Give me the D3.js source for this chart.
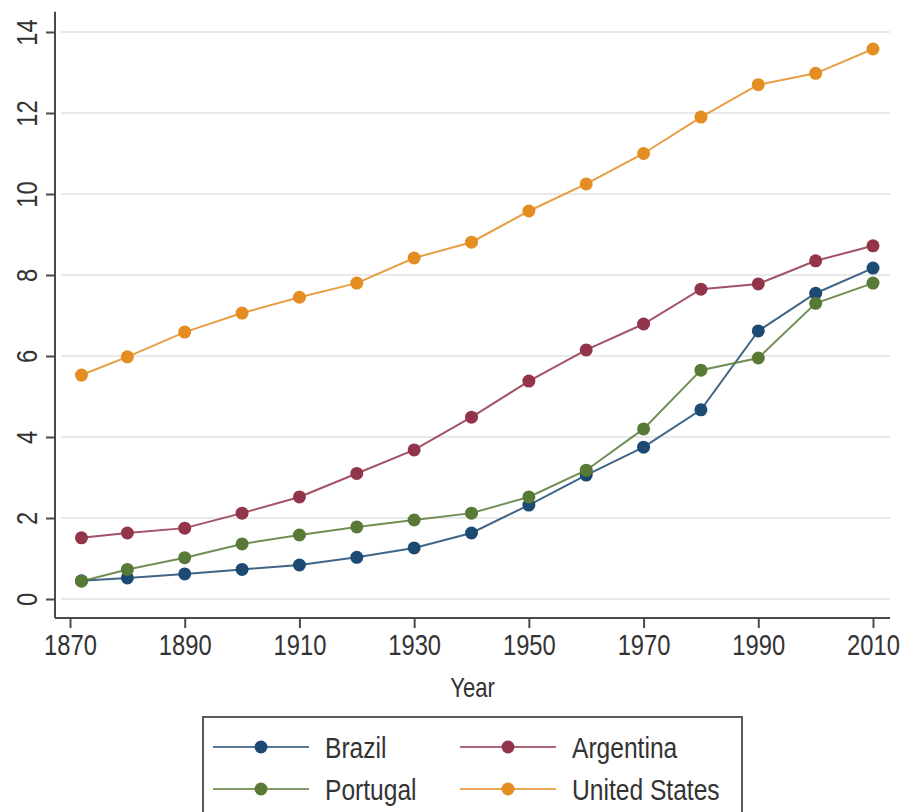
<!DOCTYPE html>
<html>
<head>
<meta charset="utf-8">
<script src="https://cdn.jsdelivr.net/npm/d3@7"></script>
<style>
  html, body { margin: 0; padding: 0; background: #fff; }
  #chart { width: 904px; height: 812px; }
  text { font-family: "Liberation Sans", Arial, sans-serif; fill: #333; }
</style>
</head>
<body>
<div id="chart"></div>
<script>
const years = [1872, 1880, 1890, 1900, 1910, 1920, 1930, 1940, 1950, 1960, 1970, 1980, 1990, 2000, 2010];
const brazil = [0.45, 0.52, 0.62, 0.73, 0.84, 1.03, 1.26, 1.63, 2.32, 3.06, 3.75, 4.67, 6.62, 7.55, 8.17];
const argentina = [1.51, 1.63, 1.75, 2.12, 2.52, 3.10, 3.68, 4.49, 5.38, 6.15, 6.79, 7.65, 7.78, 8.35, 8.72];
const portugal = [0.44, 0.73, 1.02, 1.36, 1.58, 1.78, 1.95, 2.12, 2.52, 3.18, 4.20, 5.65, 5.95, 7.30, 7.80];
const unitedStates = [5.53, 5.98, 6.59, 7.06, 7.45, 7.80, 8.42, 8.81, 9.58, 10.25, 11.00, 11.90, 12.70, 12.98, 13.58];
const xTicks = [1870, 1890, 1910, 1930, 1950, 1970, 1990, 2010];
const yTicks = [0, 2, 4, 6, 8, 10, 12, 14];

// legend order is row-wise: Brazil, Argentina / Portugal, United States
const seriesList = [
  { name: 'Brazil',        values: brazil,       color: '#1d4a72' },
  { name: 'Argentina',     values: argentina,    color: '#93354a' },
  { name: 'Portugal',      values: portugal,     color: '#587a36' },
  { name: 'United States', values: unitedStates, color: '#e48d22' }
];

// no narrow font installed, so squeeze the regular one
const narrow = 'scale(0.82,1)';

const svg = d3.select('#chart').append('svg')
  .attr('width', 904)
  .attr('height', 812);

const x = d3.scaleLinear().domain([1870, 2010]).range([70, 873]);
const y = d3.scaleLinear().domain([0, 14]).range([599, 32]);

const plot = { left: 55, right: 890, top: y(14.5), bottom: y(-0.47) };

// grid lines
svg.append('g')
  .selectAll('line')
  .data(yTicks)
  .enter().append('line')
    .attr('x1', plot.left + 6)
    .attr('x2', plot.right)
    .attr('y1', d => y(d))
    .attr('y2', d => y(d))
    .attr('stroke', '#e9e9e9')
    .attr('stroke-width', 2);

// y axis
const yAxis = svg.append('g')
  .attr('transform', 'translate(' + plot.left + ',0)')
  .call(d3.axisLeft(y).tickValues(yTicks).tickSize(9).tickPadding(0).tickSizeOuter(0));
yAxis.select('.domain')
  .attr('d', 'M0,' + plot.top + 'V' + plot.bottom)
  .attr('stroke', '#4a4a4a')
  .attr('stroke-width', 2);
yAxis.selectAll('.tick line').attr('stroke', '#4a4a4a').attr('stroke-width', 2);
yAxis.selectAll('.tick text')
  .attr('font-size', 29)
  .attr('text-anchor', 'middle')
  .attr('fill', '#333')
  .attr('x', null)
  .attr('dy', null)
  .attr('transform', 'translate(-18,0) rotate(-90) ' + narrow);

// x axis
const xAxis = svg.append('g')
  .attr('transform', 'translate(0,' + plot.bottom + ')')
  .call(d3.axisBottom(x).tickValues(xTicks).tickFormat(d3.format('d')).tickSize(10).tickPadding(6).tickSizeOuter(0));
xAxis.select('.domain')
  .attr('d', 'M' + plot.left + ',0H' + plot.right)
  .attr('stroke', '#4a4a4a')
  .attr('stroke-width', 2);
xAxis.selectAll('.tick line').attr('stroke', '#4a4a4a').attr('stroke-width', 2);
xAxis.selectAll('.tick text')
  .attr('font-size', 29)
  .attr('fill', '#333')
  .attr('transform', narrow);

svg.append('text')
  .attr('transform', 'translate(' + ((plot.left + plot.right) / 2) + ',697) ' + narrow)
  .attr('text-anchor', 'middle')
  .attr('font-size', 27)
  .text('Year');

// series
const line = d3.line()
  .x((d, i) => x(years[i]))
  .y(d => y(d));

seriesList.forEach(function (series) {
  const layer = svg.append('g');
  layer.append('path')
    .attr('d', line(series.values))
    .attr('fill', 'none')
    .attr('stroke', series.color)
    .attr('stroke-opacity', 0.85)
    .attr('stroke-width', 2);
  layer.selectAll('circle')
    .data(series.values)
    .enter().append('circle')
      .attr('cx', (d, i) => x(years[i]))
      .attr('cy', d => y(d))
      .attr('r', 6.5)
      .attr('fill', series.color);
});

// legend
const legend = svg.append('g');
legend.append('rect')
  .attr('x', 203)
  .attr('y', 717)
  .attr('width', 539)
  .attr('height', 120)
  .attr('fill', '#fff')
  .attr('stroke', '#5a5a5a')
  .attr('stroke-width', 2);

const legendItems = legend.selectAll('g.item')
  .data(seriesList)
  .enter().append('g')
    .attr('class', 'item')
    .attr('transform', (d, i) => 'translate(' + (i % 2 === 0 ? 213 : 460) + ',' + (i < 2 ? 747 : 789) + ')');

legendItems.append('line')
  .attr('x1', 0)
  .attr('x2', 96)
  .attr('stroke', d => d.color)
  .attr('stroke-opacity', 0.75)
  .attr('stroke-width', 2);
legendItems.append('circle')
  .attr('cx', 48)
  .attr('r', 6.5)
  .attr('fill', d => d.color);
legendItems.append('text')
  .attr('transform', 'translate(112,0) ' + narrow)
  .attr('dy', '0.35em')
  .attr('font-size', 30)
  .text(d => d.name);
</script>
</body>
</html>
